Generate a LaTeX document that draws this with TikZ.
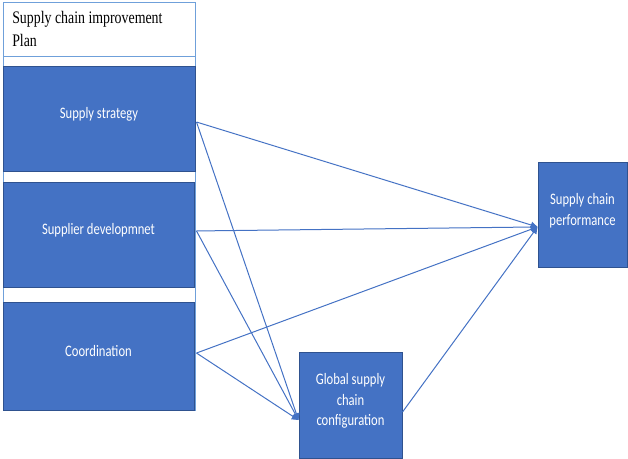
\documentclass[tikz,border=0pt]{standalone}
\usepackage{fontspec}
\setmainfont{Liberation Serif}
\newfontfamily\calib{Carlito}
\usetikzlibrary{arrows.meta}
\definecolor{boxblue}{HTML}{4472C4}
\definecolor{boxedge}{HTML}{2F528F}
\definecolor{frameblue}{HTML}{6FA0DA}
\newcommand{\vst}[1]{\scalebox{1}[1.27]{#1}}
\begin{document}
\begin{tikzpicture}[x=0.75pt,y=-0.75pt,
  bluebox/.style={draw=boxedge,fill=boxblue,line width=0.75pt,inner sep=0pt},
  boxtext/.style={text=white,font=\calib\fontsize{9.45pt}{15.5pt}\selectfont,align=center,inner sep=0pt},
  conn/.style={draw=boxblue,line width=0.75pt,-{Triangle[length=5pt,width=5pt]}}]
\useasboundingbox (0,0) rectangle (628,459);
% outer frame and title box
\draw[frameblue,line width=0.75pt,fill=white] (3,3) rectangle (195,410);
\node[draw=frameblue,line width=0.75pt,fill=white,minimum width=144pt,minimum height=40.5pt,inner sep=0pt] (title) at (99,30) {};
\node[anchor=north west,align=left,inner sep=0pt,font=\fontsize{10.4pt}{17.5pt}\selectfont] (titletext) at (12,11) {\vst{Supply chain improvement}\\\vst{Plan}};
% boxes
\node[bluebox,minimum width=144pt,minimum height=78.75pt] (ss) at (99,119.5) {};
\node[bluebox,minimum width=143.25pt,minimum height=78.75pt] (sd) at (98.5,235.5) {};
\node[bluebox,minimum width=143.25pt,minimum height=80.25pt] (co) at (98.5,356.5) {};
\node[bluebox,minimum width=77.25pt,minimum height=78.75pt] (gl) at (350.5,405.5) {};
\node[bluebox,minimum width=66.75pt,minimum height=78.75pt] (pf) at (582.5,215.5) {};
% texts
\node[boxtext] (sst) at ([yshift=4.1pt]ss.center) {\vst{Supply strategy}};
\node[boxtext] (sdt) at ([yshift=4.1pt]sd.center) {\vst{Supplier developmnet}};
\node[boxtext] (cot) at ([yshift=4.1pt]co.center) {\vst{Coordination}};
\node[boxtext] (glt) at ([yshift=3.3pt]gl.center) {\vst{Global supply}\\\vst{chain}\\\vst{configuration}};
\node[boxtext] (pft) at ([yshift=3.8pt]pf.center) {\vst{Supply chain}\\\vst{performance}};
% connectors
\draw[conn] ([yshift=-1.9pt,xshift=0.75pt]ss.east) -- ([yshift=-8.6pt]pf.west);
\draw[conn] ([yshift=-1.9pt,xshift=0.75pt]ss.east) -- ([yshift=-10.9pt]gl.west);
\draw[conn] ([yshift=3.4pt,xshift=1.5pt]sd.east) -- ([yshift=-8.6pt]pf.west);
\draw[conn] ([yshift=3.4pt,xshift=1.5pt]sd.east) -- ([yshift=-10.9pt]gl.west);
\draw[conn] ([yshift=2.6pt,xshift=1.5pt]co.east) -- ([yshift=-8.6pt]pf.west);
\draw[conn] ([yshift=2.6pt,xshift=1.5pt]co.east) -- ([yshift=-10.9pt]gl.west);
\draw[conn] ([yshift=-4.9pt]gl.east) -- ([yshift=-8.6pt]pf.west);
\end{tikzpicture}
\end{document}
